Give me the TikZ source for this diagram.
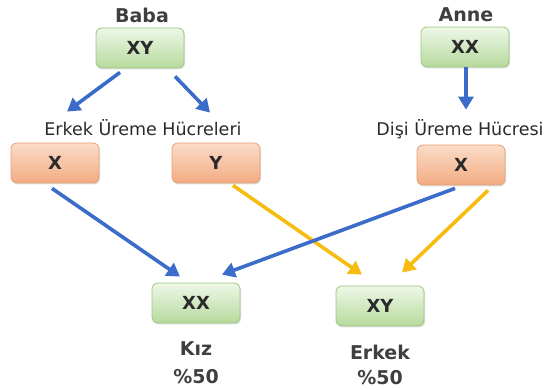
\documentclass[tikz,border=0pt]{standalone}
\usepackage{fontspec}
\setmainfont{DejaVu Sans}
\usetikzlibrary{arrows.meta,calc,shadows}

\definecolor{txt}{HTML}{2A2A2A}
\definecolor{gTop}{HTML}{EEF7E8}
\definecolor{gBot}{HTML}{B6DA9C}
\definecolor{gLine}{HTML}{9CC67F}
\definecolor{oTop}{HTML}{FBDCC8}
\definecolor{oBot}{HTML}{F2AC82}
\definecolor{oLine}{HTML}{E2A07A}
\definecolor{arrBlue}{HTML}{3B6CC9}
\definecolor{arrGold}{HTML}{F7BC10}

\tikzset{
  box/.style={rounded corners=6pt, minimum width=88pt, minimum height=40pt,
    line width=0.8pt, font=\fontsize{18}{20}\selectfont\bfseries, text=txt,
    drop shadow={shadow xshift=1pt, shadow yshift=-1.5pt, opacity=0.25}},
  gbox/.style={box, draw=gLine, top color=gTop, bottom color=gBot},
  obox/.style={box, draw=oLine, top color=oTop, bottom color=oBot},
  title/.style={font=\fontsize{19}{22}\selectfont\bfseries, text=txt!90},
  cellname/.style={font=\fontsize{17.5}{20}\selectfont, text=txt},
  conn/.style={line width=3.6pt, -{Triangle[length=13pt,width=15pt]}},
  blueconn/.style={conn, draw=arrBlue, fill=arrBlue},
  goldconn/.style={conn, draw=arrGold, fill=arrGold}
}

\begin{document}
\begin{tikzpicture}[x=1pt,y=-1pt]
\useasboundingbox (0,0) rectangle (552,390);

% parents
\node[title] (babaT) at (142,15) {Baba};
\node[title] (anneT) at (466,15) {Anne};
\node[gbox] (baba) at (140,48) {XY};
\node[gbox] (anne) at (465,47) {XX};

% gametes
\node[cellname] (erkekG) at (143,128) {Erkek Üreme Hücreleri};
\node[cellname] (disiG) at (460,129) {Dişi Üreme Hücresi};
\node[obox] (lx) at (55,163) {X};
\node[obox] (ly) at (216,163) {Y};
\node[obox] (rx) at (461,165) {X};

% offspring
\node[gbox] (kxx) at (196,303) {XX};
\node[gbox] (kxy) at (380,306) {XY};
\node[title] (kiz) at (196,349) {Kız};
\node[title] (kizP) at (196,377) {\%50};
\node[title] (erkek) at (380,352) {Erkek};
\node[title] (erkekP) at (380,378) {\%50};

% meiosis arrows
\draw[blueconn] ([xshift=-20pt,yshift=-4pt]baba.south) -- ($(lx.north)+(12,-31)$);
\draw[blueconn] ([xshift=35pt,yshift=-8pt]baba.south) -- ($(ly.north)+(-6,-30)$);
\draw[blueconn] ([xshift=1pt]anne.south) -- ($(rx.north)+(5,-35)$);

% fertilisation arrows
\draw[goldconn] ($(ly.south)+(17,2)$) -- ($(kxy.north)+(-18,-11)$);
\draw[goldconn] ($(rx.south)+(27,5)$) -- ($(kxy.north)+(22,-13)$);
\draw[blueconn] ($(lx.south)+(-3,5)$) -- ($(kxx.north)+(-16,-6)$);
\draw[blueconn] ($(rx.south)+(-6,3)$) -- ($(kxx.north)+(26,-8)$);
\end{tikzpicture}
\end{document}
